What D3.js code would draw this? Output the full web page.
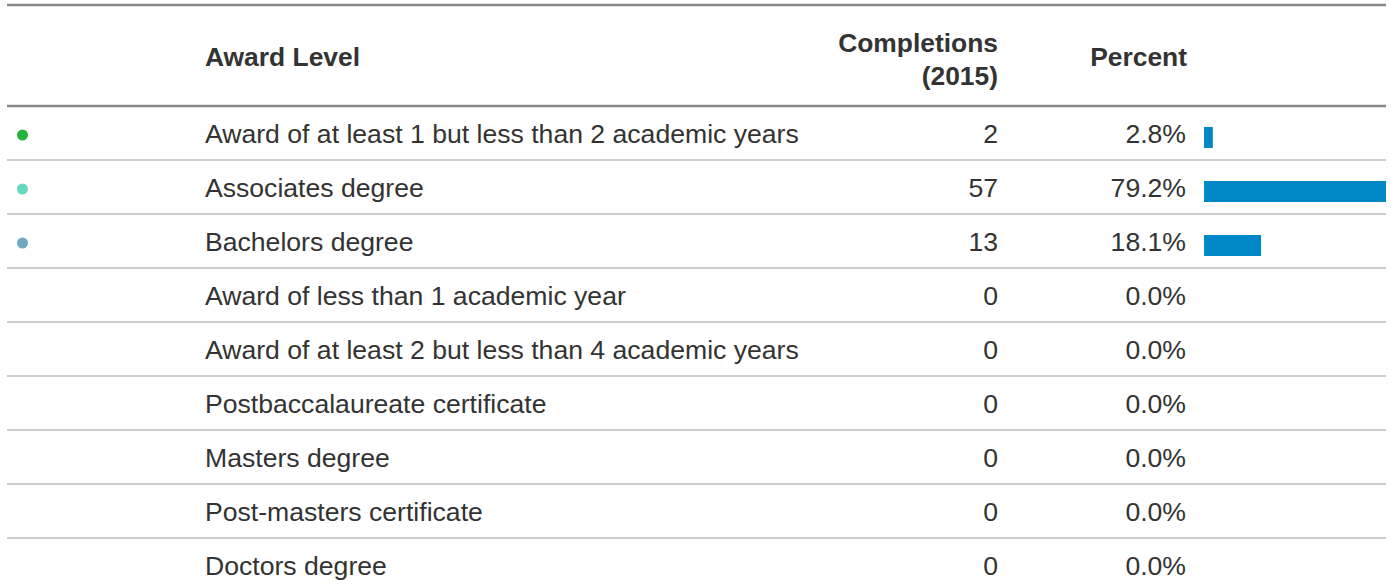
<!DOCTYPE html>
<html>
<head>
<meta charset="utf-8">
<script src="https://cdn.jsdelivr.net/npm/d3@7"></script>
<style>
  html, body { margin: 0; padding: 0; background: #fff; }
  svg text { font-family: Arial, "Liberation Sans", Helvetica, sans-serif; }
</style>
</head>
<body>
<svg id="chart" width="1391" height="587"></svg>
<script>
const awardLevels = [
  "Award of at least 1 but less than 2 academic years",
  "Associates degree",
  "Bachelors degree",
  "Award of less than 1 academic year",
  "Award of at least 2 but less than 4 academic years",
  "Postbaccalaureate certificate",
  "Masters degree",
  "Post-masters certificate",
  "Doctors degree"
];
const completions = [2, 57, 13, 0, 0, 0, 0, 0, 0];
const percents = [2.8, 79.2, 18.1, 0, 0, 0, 0, 0, 0];
const dotColors = ["#22b53a", "#66d9bf", "#6fa8c0", null, null, null, null, null, null];
const headers = ["Award Level", "Completions", "(2015)", "Percent"];

const svg = d3.select("#chart");
const left = 7, right = 1386;
const headerBottom = 106;
const rowH = 54;
const textColor = "#333";
const FONT = 'Arial, "Liberation Sans", Helvetica, sans-serif';
const fs = 26.6;

const rows = awardLevels.map((d, i) => ({
  level: d, count: completions[i], pct: percents[i], color: dotColors[i]
}));

const y = d3.scaleBand().domain(d3.range(rows.length))
  .range([headerBottom, headerBottom + rowH * rows.length]).padding(0);
const barX = d3.scaleLinear().domain([0, 100]).range([1204, 1204 + 315]);

svg.append("defs").append("clipPath").attr("id", "clip")
  .append("rect").attr("x", 0).attr("y", 0).attr("width", right).attr("height", 587);

svg.append("line").attr("x1", left).attr("x2", right).attr("y1", 5).attr("y2", 5)
  .attr("stroke", "#888").attr("stroke-width", 2.5);

const hdr = svg.append("g").attr("fill", textColor).attr("font-weight", "bold")
  .attr("font-size", 26.4).attr("font-family", FONT);
hdr.append("text").attr("x", 205).attr("y", 66).text(headers[0]);
hdr.append("text").attr("x", 998).attr("y", 52).attr("text-anchor", "end").text(headers[1]);
hdr.append("text").attr("x", 998).attr("y", 85).attr("text-anchor", "end").text(headers[2]);
hdr.append("text").attr("x", 1187).attr("y", 66).attr("text-anchor", "end").text(headers[3]);

svg.append("line").attr("x1", left).attr("x2", right).attr("y1", headerBottom).attr("y2", headerBottom)
  .attr("stroke", "#888").attr("stroke-width", 2.5);

const g = svg.selectAll("g.row").data(rows).join("g").attr("class", "row")
  .attr("transform", (d, i) => `translate(0,${y(i)})`);

g.filter((d, i) => i < rows.length - 1).append("line")
  .attr("x1", left).attr("x2", right).attr("y1", rowH).attr("y2", rowH)
  .attr("stroke", "#ccc").attr("stroke-width", 2);

g.filter(d => d.color).append("circle")
  .attr("cx", 22.5).attr("cy", rowH / 2 + 2).attr("r", 5.5)
  .attr("fill", d => d.color);

const base = rowH / 2 + 10;
g.append("text").attr("x", 205).attr("y", base).attr("font-size", fs).attr("font-family", FONT)
  .attr("fill", textColor).text(d => d.level);
g.append("text").attr("x", 998).attr("y", base).attr("font-size", fs).attr("font-family", FONT)
  .attr("text-anchor", "end").attr("fill", textColor).text(d => d.count);
g.append("text").attr("x", 1186).attr("y", base).attr("font-size", fs).attr("font-family", FONT)
  .attr("text-anchor", "end").attr("fill", textColor).text(d => d.pct.toFixed(1) + "%");

g.filter(d => d.pct > 0).append("rect")
  .attr("clip-path", "url(#clip)")
  .attr("x", barX(0)).attr("y", rowH / 2 - 6)
  .attr("width", d => barX(d.pct) - barX(0)).attr("height", 21)
  .attr("fill", "#0088c6");
</script>
</body>
</html>
